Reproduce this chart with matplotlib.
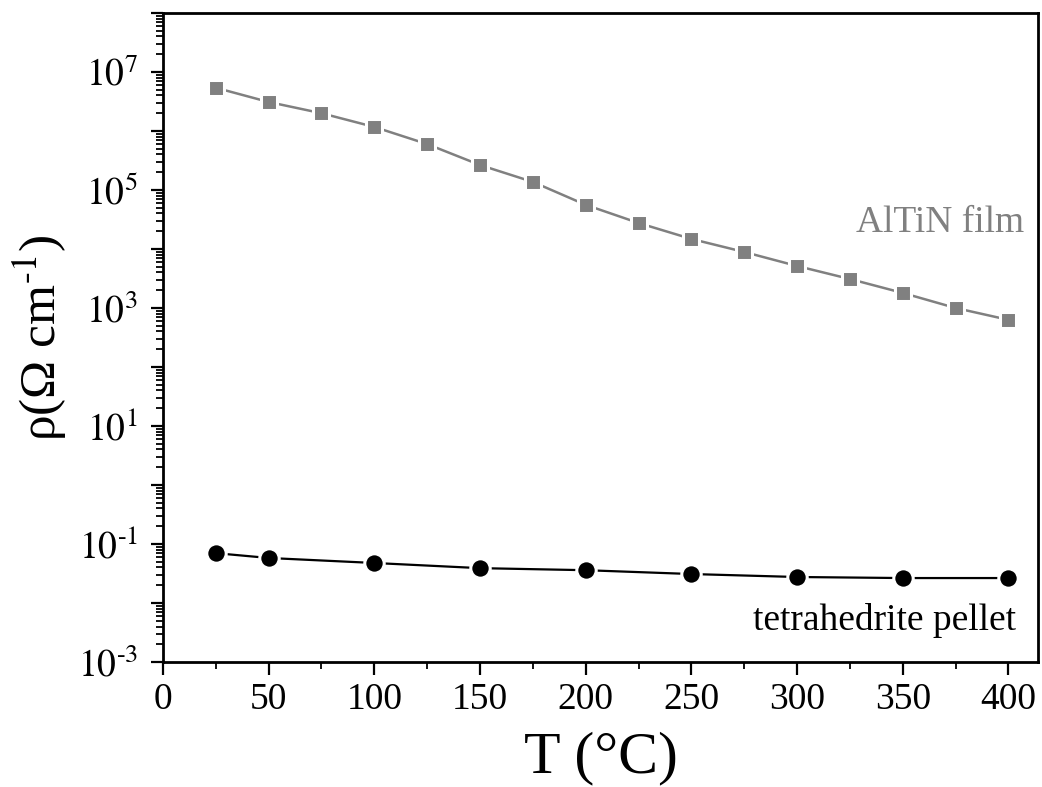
import math
import matplotlib
matplotlib.use("Agg")
import matplotlib.pyplot as plt
from matplotlib.ticker import LogLocator, FixedLocator, MultipleLocator, FuncFormatter, NullFormatter

plt.rcParams['font.family'] = ['Liberation Serif', 'DejaVu Serif']
plt.rcParams['mathtext.fontset'] = 'stix'

# Data
altin_T = [25, 50, 75, 100, 125, 150, 175, 200, 225, 250, 275, 300, 325, 350, 375, 400]
altin_rho = [5.4e6, 3.1e6, 2.0e6, 1.17e6, 6.0e5, 2.65e5, 1.37e5, 5.6e4, 2.76e4,
             1.48e4, 8.9e3, 5.15e3, 3.1e3, 1.8e3, 1.0e3, 6.3e2]
tetra_T = [25, 50, 100, 150, 200, 250, 300, 350, 400]
tetra_rho = [0.070, 0.058, 0.0477, 0.039, 0.036, 0.031, 0.0276, 0.0265, 0.0265]
ytick_labels_exp = [-3, -1, 1, 3, 5, 7]
xticks = [0, 50, 100, 150, 200, 250, 300, 350, 400]


def yfmt(v, p):
    k = round(math.log10(v))
    if k not in ytick_labels_exp:
        return ''
    return r'$10^{\text{%d}}$' % k


fig = plt.figure(figsize=(10.42, 7.87), dpi=100)
ax = fig.add_axes([0.1564, 0.1588, 0.9962 - 0.1564, 0.9835 - 0.1588])

ax.plot(altin_T, altin_rho, color='#808080', lw=1.8, marker='s', ms=11.5,
        mfc='#808080', mec='white', mew=2.2, zorder=3)
ax.plot(tetra_T, tetra_rho, color='black', lw=1.6, marker='o', ms=14.0,
        mfc='black', mec='white', mew=2.2, zorder=3)

ax.set_yscale('log')
ax.set_ylim(1e-3, 1e8)
ax.set_xlim(0, 414)

ax.yaxis.set_major_locator(FixedLocator([10.0**k for k in range(-3, 9)]))
ax.yaxis.set_major_formatter(FuncFormatter(yfmt))
ax.yaxis.set_minor_locator(LogLocator(base=10, subs=[2, 3, 4, 5, 6, 7, 8, 9], numticks=50))
ax.yaxis.set_minor_formatter(NullFormatter())

ax.xaxis.set_major_locator(FixedLocator(xticks))
ax.xaxis.set_minor_locator(MultipleLocator(25))

ax.tick_params(which='major', direction='out', length=9, width=1.6, labelsize=27,
               top=False, right=False, pad=6)
ax.tick_params(axis='y', which='major', pad=9)
ax.tick_params(which='minor', direction='out', length=5, width=1.3, top=False, right=False)
for s in ax.spines.values():
    s.set_linewidth(2.0)

ax.set_xlabel('T (°C)', fontsize=43, labelpad=10)
ax.set_ylabel(r'ρ(Ω cm$^{\text{-1}}$)', fontsize=37, labelpad=6)

ax.text(407.6, 2.75e4, 'AlTiN film', color='#808080', fontsize=27, ha='right', va='center')
ax.text(403.5, 5.0e-3, 'tetrahedrite pellet', color='black', fontsize=27, ha='right', va='center')

fig.savefig('out.png', dpi=100)
